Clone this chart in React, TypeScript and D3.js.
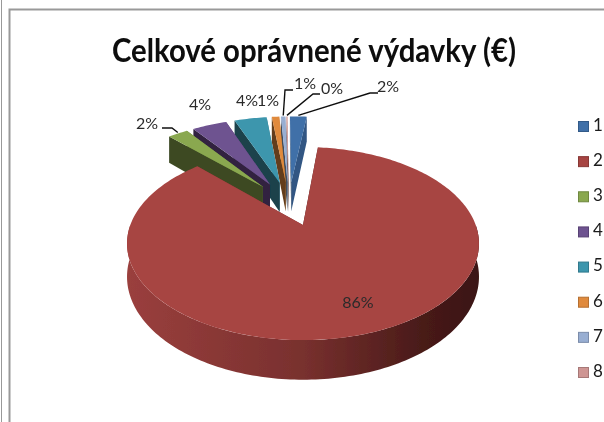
import React from 'react'
import * as d3 from 'd3'

const categories = ['1', '2', '3', '4', '5', '6', '7', '8']
const shares = [2.0, 86.1, 2.35, 4.1, 3.85, 0.9, 0.55, 0.15]
const colors = ['#3f6fa8', '#a74442', '#8aa84f', '#6e5290', '#3c96ad', '#e08a3c', '#98aed2', '#ce9593']
const title = 'Celkové oprávnené výdavky (€)'

const fontFamily = 'Lato, "Open Sans", sans-serif'
const width = 604
const height = 422

// perspective of the pie plane, fitted to the picture
const originX = 303
const originY = 225
const scaleU = 172.7
const scaleV = 93
const tilt = 0.192
const wallDepth = 32
const explode = 0.26
const rotation = (-1.3 * Math.PI) / 180

// where each data label sits, and an optional elbow for its leader
const labelPos: [number, number, number?, number?][] = [
  [388, 88, 370, 93],
  [358, 304],
  [147, 125, 172, 128],
  [200, 106],
  [247, 102],
  [268, 102],
  [305, 85, 285, 90],
  [332, 90, 313, 94],
]
const leaderEnd = [378, 0, 162, 0, 0, 0, 293, 320]

const project = (u: number, v: number, d = 0): [number, number] => {
  const w = 1 - tilt * v
  return [originX + (scaleU * u) / w, originY + (scaleV * v + d * wallDepth) / w]
}

const arcs = d3
  .pie<number>()
  .sort(null)
  .startAngle(rotation)
  .endAngle(rotation + Math.PI * 2)(shares)

const dir = (a: number): [number, number] => [Math.sin(a), -Math.cos(a)]
const mid = (a: d3.PieArcDatum<number>) => (a.startAngle + a.endAngle) / 2

const mainDir = dir(mid(arcs[1]))
const hub: [number, number] = [-explode * mainDir[0], -explode * mainDir[1]]

const line = d3.line()

const apexOf = (a: d3.PieArcDatum<number>): [number, number] => {
  const m = dir(mid(a))
  return [hub[0] + explode * m[0], hub[1] + explode * m[1]]
}

const rim = (a: d3.PieArcDatum<number>, from: number, to: number, d = 0) => {
  const [cu, cv] = apexOf(a)
  const n = Math.max(2, Math.ceil(Math.abs(to - from) / 0.02))
  return d3.range(n + 1).map((i) => {
    const t = from + ((to - from) * i) / n
    const m = dir(t)
    return project(cu + m[0], cv + m[1], d)
  })
}

const wallPath = (a: d3.PieArcDatum<number>, angle: number) => {
  const [cu, cv] = apexOf(a)
  const m = dir(angle)
  return (
    line([
      project(cu, cv),
      project(cu + m[0], cv + m[1]),
      project(cu + m[0], cv + m[1], 1),
      project(cu, cv, 1),
    ]) + 'Z'
  )
}

const topPath = (a: d3.PieArcDatum<number>) => {
  const [cu, cv] = apexOf(a)
  return line([project(cu, cv), ...rim(a, a.startAngle, a.endAngle)]) + 'Z'
}

const outerWall = (a: d3.PieArcDatum<number>) => {
  const from = Math.max(a.startAngle, Math.PI / 2)
  const to = Math.min(a.endAngle, (Math.PI * 3) / 2)
  if (to <= from) return null
  return line([...rim(a, from, to), ...rim(a, to, from, 1)]) + 'Z'
}

// far slices first so the nearer ones paint over them
const order = arcs
  .map((a, i) => ({ a, i }))
  .sort((p, q) => Math.cos(mid(q.a)) - Math.cos(mid(p.a)))

const legendY = d3
  .scalePoint<string>()
  .domain(categories)
  .range([126.5, 372.5])

export default function App() {
  return (
    <svg
      width={width}
      height={height}
      style={{ position: 'absolute', left: 0, top: 0, background: '#fff' }}
      fontFamily={fontFamily}
    >
      <defs>
        <linearGradient id="mainWall" gradientUnits="userSpaceOnUse" x1={128} x2={480} y1={0} y2={0}>
          <stop offset="0" stopColor="#9a3f3d" />
          <stop offset="0.5" stopColor="#78302e" />
          <stop offset="0.85" stopColor="#471a18" />
          <stop offset="1" stopColor="#3a1412" />
        </linearGradient>
        <filter id="soft" x="0" y="0" width="100%" height="100%">
          <feGaussianBlur stdDeviation={0.4} />
        </filter>
      </defs>

      <g filter="url(#soft)">
        <path d="M1,0V422" stroke="#999" strokeWidth={2} fill="none" />
        <path d="M9.5,422V9.5H604" stroke="#999" strokeWidth={2} fill="none" />

        <text
          x={314}
          y={62}
          textAnchor="middle"
          fontSize={32}
          fontWeight={700}
          fill="#0a0a0a"
          textLength={404}
          lengthAdjust="spacingAndGlyphs"
        >
          {title}
        </text>

        {order.map(({ a, i }) => {
          const base = d3.color(colors[i])!
          const outer = outerWall(a)
          return (
            <g key={categories[i]}>
              <path d={wallPath(a, a.endAngle)} fill={base.darker(0.7).formatHex()} />
              <path d={wallPath(a, a.startAngle)} fill={base.darker(2.3).formatHex()} />
              {outer && <path d={outer} fill={i === 1 ? 'url(#mainWall)' : base.darker(1.2).formatHex()} />}
              <path d={topPath(a)} fill={colors[i]} />
            </g>
          )
        })}

        {arcs.map((a, i) => {
          const [x, y, ex, ey] = labelPos[i]
          const tip = rim(a, mid(a), mid(a))[0]
          const endX = leaderEnd[i]
          return (
            <g key={categories[i]}>
              {ex !== undefined && (
                <path
                  d={line([[endX, ey as number], [ex, ey as number], [tip[0], tip[1] - 1]]) as string}
                  fill="none"
                  stroke="#111"
                  strokeWidth={1.4}
                />
              )}
              <text x={x} y={y} textAnchor="middle" dominantBaseline="middle" fontSize={16} fill="#2b2b2b">
                {Math.round(a.value) + '%'}
              </text>
            </g>
          )
        })}

        {categories.map((c, i) => {
          const y = legendY(c) as number
          return (
            <g key={c}>
              <rect
                x={578.5}
                y={y - 5}
                width={10}
                height={10}
                fill={colors[i]}
                stroke={d3.color(colors[i])!.darker(0.6).formatHex()}
                strokeWidth={1}
              />
              <text x={593} y={y} dominantBaseline="middle" fontSize={17} fill="#1a1a1a">
                {c}
              </text>
            </g>
          )
        })}
      </g>
    </svg>
  )
}
